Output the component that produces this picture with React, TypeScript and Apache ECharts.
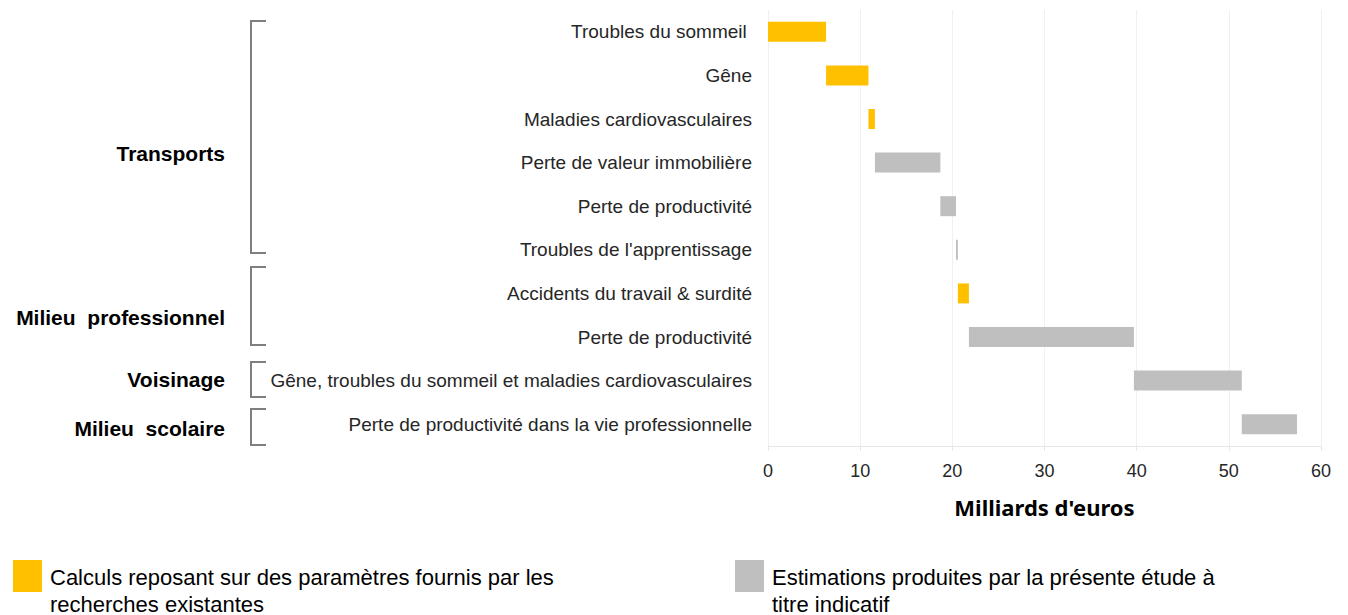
import React, { useEffect, useRef } from "react";
import * as echarts from "echarts";

const categories = [
  "Troubles du sommeil ",
  "Gêne",
  "Maladies cardiovasculaires",
  "Perte de valeur immobilière",
  "Perte de productivité",
  "Troubles de l'apprentissage",
  "Accidents du travail & surdité",
  "Perte de productivité",
  "Gêne, troubles du sommeil et maladies cardiovasculaires",
  "Perte de productivité dans la vie professionnelle",
];
const values = [6.3, 4.6, 0.7, 7.1, 1.7, 0.2, 1.2, 17.9, 11.7, 6.0];
// "A" = calculs (existing research), "B" = estimations (present study)
const kinds = ["A", "A", "A", "B", "B", "B", "A", "B", "B", "B"];
const xTicks = [0, 10, 20, 30, 40, 50, 60];
const seriesNames = [
  "Calculs reposant sur des paramètres fournis par les recherches existantes",
  "Estimations produites par la présente étude à titre indicatif",
];
const legendLines = [
  ["Calculs reposant sur des paramètres fournis par les", "recherches existantes"],
  ["Estimations produites par la présente étude à", "titre indicatif"],
];
const groups = ["Transports", "Milieu  professionnel", "Voisinage", "Milieu  scolaire"];

const YELLOW = "#FFC000";
const GREY = "#BFBFBF";

export default function App() {
  const ref = useRef<HTMLDivElement>(null);
  useEffect(() => {
    if (!ref.current) return;
    const chart = echarts.init(ref.current, undefined, { renderer: "svg" });
    const bases: number[] = [];
    let acc = 0;
    values.forEach((v) => {
      bases.push(Math.round(acc * 100) / 100);
      acc += v;
    });
    const aVals = values.map((v, i) => (kinds[i] === "A" ? v : 0));
    const bVals = values.map((v, i) => (kinds[i] === "B" ? v : 0));

    const groupY = [153, 317, 379, 428];
    const brackets = [
      [21, 253],
      [267, 345],
      [362, 397],
      [409, 445],
    ];
    const graphics: any[] = [];
    groups.forEach((g, i) => {
      graphics.push({
        type: "text",
        x: 225,
        y: groupY[i],
        style: {
          text: g,
          font: "bold 21px 'Liberation Sans', Arial, sans-serif",
          fill: "#000",
          textAlign: "right",
          textVerticalAlign: "middle",
        },
      });
    });
    brackets.forEach(([t, b]) => {
      graphics.push({
        type: "polyline",
        shape: { points: [[266, t], [251, t], [251, b], [266, b]] },
        style: { stroke: "#7F7F7F", lineWidth: 2, fill: null },
      });
    });
    const legX = [13, 735];
    const legColors = [YELLOW, GREY];
    legX.forEach((x, i) => {
      graphics.push({
        type: "rect",
        shape: { x, y: 560, width: 29, height: 32 },
        style: { fill: legColors[i] },
      });
      legendLines[i].forEach((line, j) => {
        graphics.push({
          type: "text",
          x: x + 37,
          y: 577 + j * 27,
          style: {
            text: line,
            font: "22px 'Liberation Sans', Arial, sans-serif",
            fill: "#000",
            textVerticalAlign: "middle",
          },
        });
      });
    });

    chart.setOption({
      animation: false,
      grid: { left: 768, right: 27, top: 10, bottom: 169, containLabel: false },
      xAxis: {
        type: "value",
        min: 0,
        max: 60,
        interval: 10,
        name: "Milliards d'euros",
        nameLocation: "middle",
        nameGap: 50,
        nameTextStyle: {
          fontFamily: "'Noto Sans', sans-serif",
          fontWeight: "bold",
          fontSize: 22,
          color: "#000",
        },
        axisLine: { show: true, lineStyle: { color: "#E6E6E6", width: 1 } },
        axisTick: { show: true, length: 5, lineStyle: { color: "#E6E6E6" } },
        axisLabel: {
          fontFamily: "'Liberation Sans', Arial, sans-serif",
          fontSize: 18,
          color: "#262626",
          margin: 16,
          formatter: (v: number) => (xTicks.includes(v) ? String(v) : ""),
        },
        splitLine: { show: true, lineStyle: { color: "#F0F0F0", width: 1 } },
      },
      yAxis: {
        type: "category",
        inverse: true,
        data: categories,
        axisLine: { show: false },
        axisTick: { show: false },
        axisLabel: {
          fontFamily: "'Liberation Sans', Arial, sans-serif",
          fontSize: 19,
          color: "#262626",
          margin: 16,
        },
      },
      series: [
        {
          name: "base",
          type: "bar",
          stack: "w",
          data: bases,
          barWidth: 20,
          itemStyle: { color: "transparent" },
          silent: true,
        },
        {
          name: seriesNames[0],
          type: "bar",
          stack: "w",
          data: aVals,
          barWidth: 20,
          itemStyle: { color: YELLOW },
        },
        {
          name: seriesNames[1],
          type: "bar",
          stack: "w",
          data: bVals,
          barWidth: 20,
          itemStyle: { color: GREY },
        },
      ],
      graphic: graphics,
    });
    return () => chart.dispose();
  }, []);
  return (
    <div
      ref={ref}
      style={{ position: "fixed", left: 0, top: 0, width: 1348, height: 615, background: "#fff" }}
    />
  );
}
